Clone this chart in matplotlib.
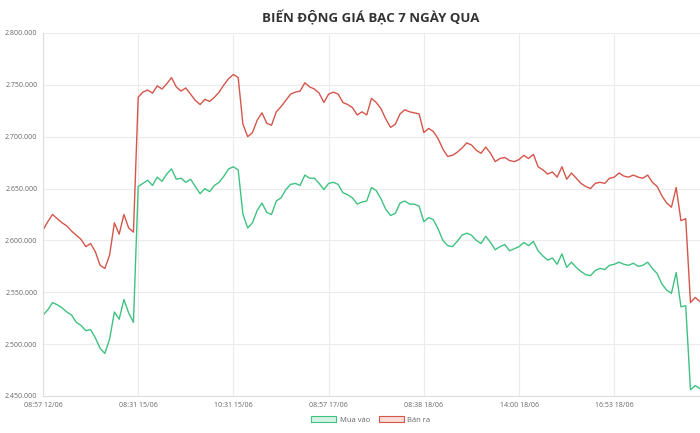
import matplotlib.pyplot as plt
from matplotlib.patches import Patch

plt.rcParams['font.family'] = ['Open Sans', 'DejaVu Sans']

# prices in thousand VND, one point per time step
mua_vao = [2528, 2533, 2540, 2538, 2535, 2531, 2528, 2521, 2518, 2513,
           2514, 2506, 2496, 2491, 2505, 2531, 2524, 2543, 2530, 2521,
           2652, 2655, 2658, 2653, 2661, 2657, 2664, 2669, 2659, 2660,
           2656, 2659, 2652, 2645, 2650, 2647, 2653, 2656, 2662, 2669,
           2671, 2668, 2625, 2612, 2617, 2629, 2636, 2627, 2625, 2638,
           2641, 2649, 2654, 2655, 2653, 2663, 2660, 2660, 2655, 2649,
           2655, 2656, 2654, 2646, 2644, 2641, 2635, 2637, 2638, 2651,
           2648, 2640, 2630, 2624, 2626, 2636, 2638, 2635, 2635, 2633,
           2618, 2622, 2620, 2611, 2600, 2595, 2594, 2599, 2605, 2607,
           2605, 2600, 2597, 2604, 2598, 2591, 2594, 2596, 2590, 2592,
           2594, 2598, 2595, 2599, 2590, 2585, 2581, 2583, 2577, 2587,
           2574, 2579, 2574, 2570, 2567, 2566, 2571, 2573, 2572, 2576,
           2577, 2579, 2577, 2576, 2578, 2575, 2576, 2579, 2573, 2568,
           2558, 2552, 2549, 2569, 2536, 2537, 2456, 2460, 2457]

ban_ra = [2610, 2618, 2625, 2621, 2617, 2614, 2609, 2605, 2601, 2594,
          2597, 2589, 2576, 2573, 2586, 2617, 2606, 2625, 2612, 2608,
          2738, 2743, 2745, 2742, 2749, 2746, 2751, 2757, 2748, 2744,
          2747, 2741, 2735, 2731, 2736, 2734, 2738, 2743, 2750, 2756,
          2760, 2757, 2712, 2700, 2704, 2716, 2723, 2713, 2711, 2724,
          2729, 2735, 2741, 2743, 2744, 2752, 2748, 2746, 2742, 2733,
          2741, 2743, 2741, 2733, 2731, 2728, 2721, 2724, 2721, 2737,
          2733, 2727, 2717, 2709, 2712, 2722, 2726, 2724, 2723, 2722,
          2704, 2708, 2705, 2698, 2688, 2681, 2682, 2685, 2689, 2694,
          2692, 2687, 2684, 2690, 2684, 2676, 2679, 2680, 2677, 2676,
          2678, 2682, 2679, 2683, 2671, 2668, 2664, 2666, 2661, 2671,
          2659, 2665, 2660, 2655, 2652, 2650, 2655, 2656, 2655, 2660,
          2661, 2665, 2662, 2661, 2663, 2661, 2660, 2663, 2656, 2652,
          2643, 2636, 2632, 2651, 2619, 2621, 2540, 2545, 2541]

tick_pos = [0, 20, 40, 60, 80, 100, 120]
tick_labels = ['08:57 12/06', '08:31 15/06', '10:31 15/06', '08:57 17/06',
               '08:38 18/06', '14:00 18/06', '16:53 18/06']
y_ticks = [2450000, 2500000, 2550000, 2600000, 2650000, 2700000, 2750000, 2800000]

green = '#3fc281'
red = '#d4564b'

fig = plt.figure(figsize=(7, 4.33), dpi=100)
ax = fig.add_axes([0.0614, 0.0855, 0.9386, 0.8383])

x = list(range(len(mua_vao)))
ax.plot(x, [v * 1000 for v in mua_vao], color=green, lw=1.0)
ax.plot(x, [v * 1000 for v in ban_ra], color=red, lw=1.0)

ax.set_xlim(0, len(x) - 1)
ax.set_ylim(2450000, 2800000)
ax.set_xticks(tick_pos)
ax.set_xticklabels(tick_labels)
ax.set_yticks(y_ticks)
ax.set_yticklabels([f'{v:,}'.replace(',', '.') for v in y_ticks])
ax.tick_params(labelsize=5, colors='#666666', length=0, pad=4)
ax.grid(True, color='#ebebeb', lw=0.8)
for s in ['top', 'right']:
    ax.spines[s].set_visible(False)
for s in ['left', 'bottom']:
    ax.spines[s].set_color('#dddddd')

fig.text(0.53, 0.958, 'BIẾN ĐỘNG GIÁ BẠC 7 NGÀY QUA', ha='center', va='center',
         fontsize=9.5, fontweight='bold', color='#333333')

handles = [Patch(facecolor='#d4f2e2', edgecolor=green, lw=0.8, label='Mua vào'),
           Patch(facecolor='#fadcd8', edgecolor=red, lw=0.8, label='Bán ra')]
leg = fig.legend(handles=handles, loc='center', bbox_to_anchor=(0.53, 0.03), ncol=2,
                 frameon=False, fontsize=5.5, handlelength=3.2, handleheight=0.9,
                 columnspacing=1.2, handletextpad=0.5)
for t in leg.get_texts():
    t.set_color('#666666')

fig.savefig('out.png', dpi=100)
